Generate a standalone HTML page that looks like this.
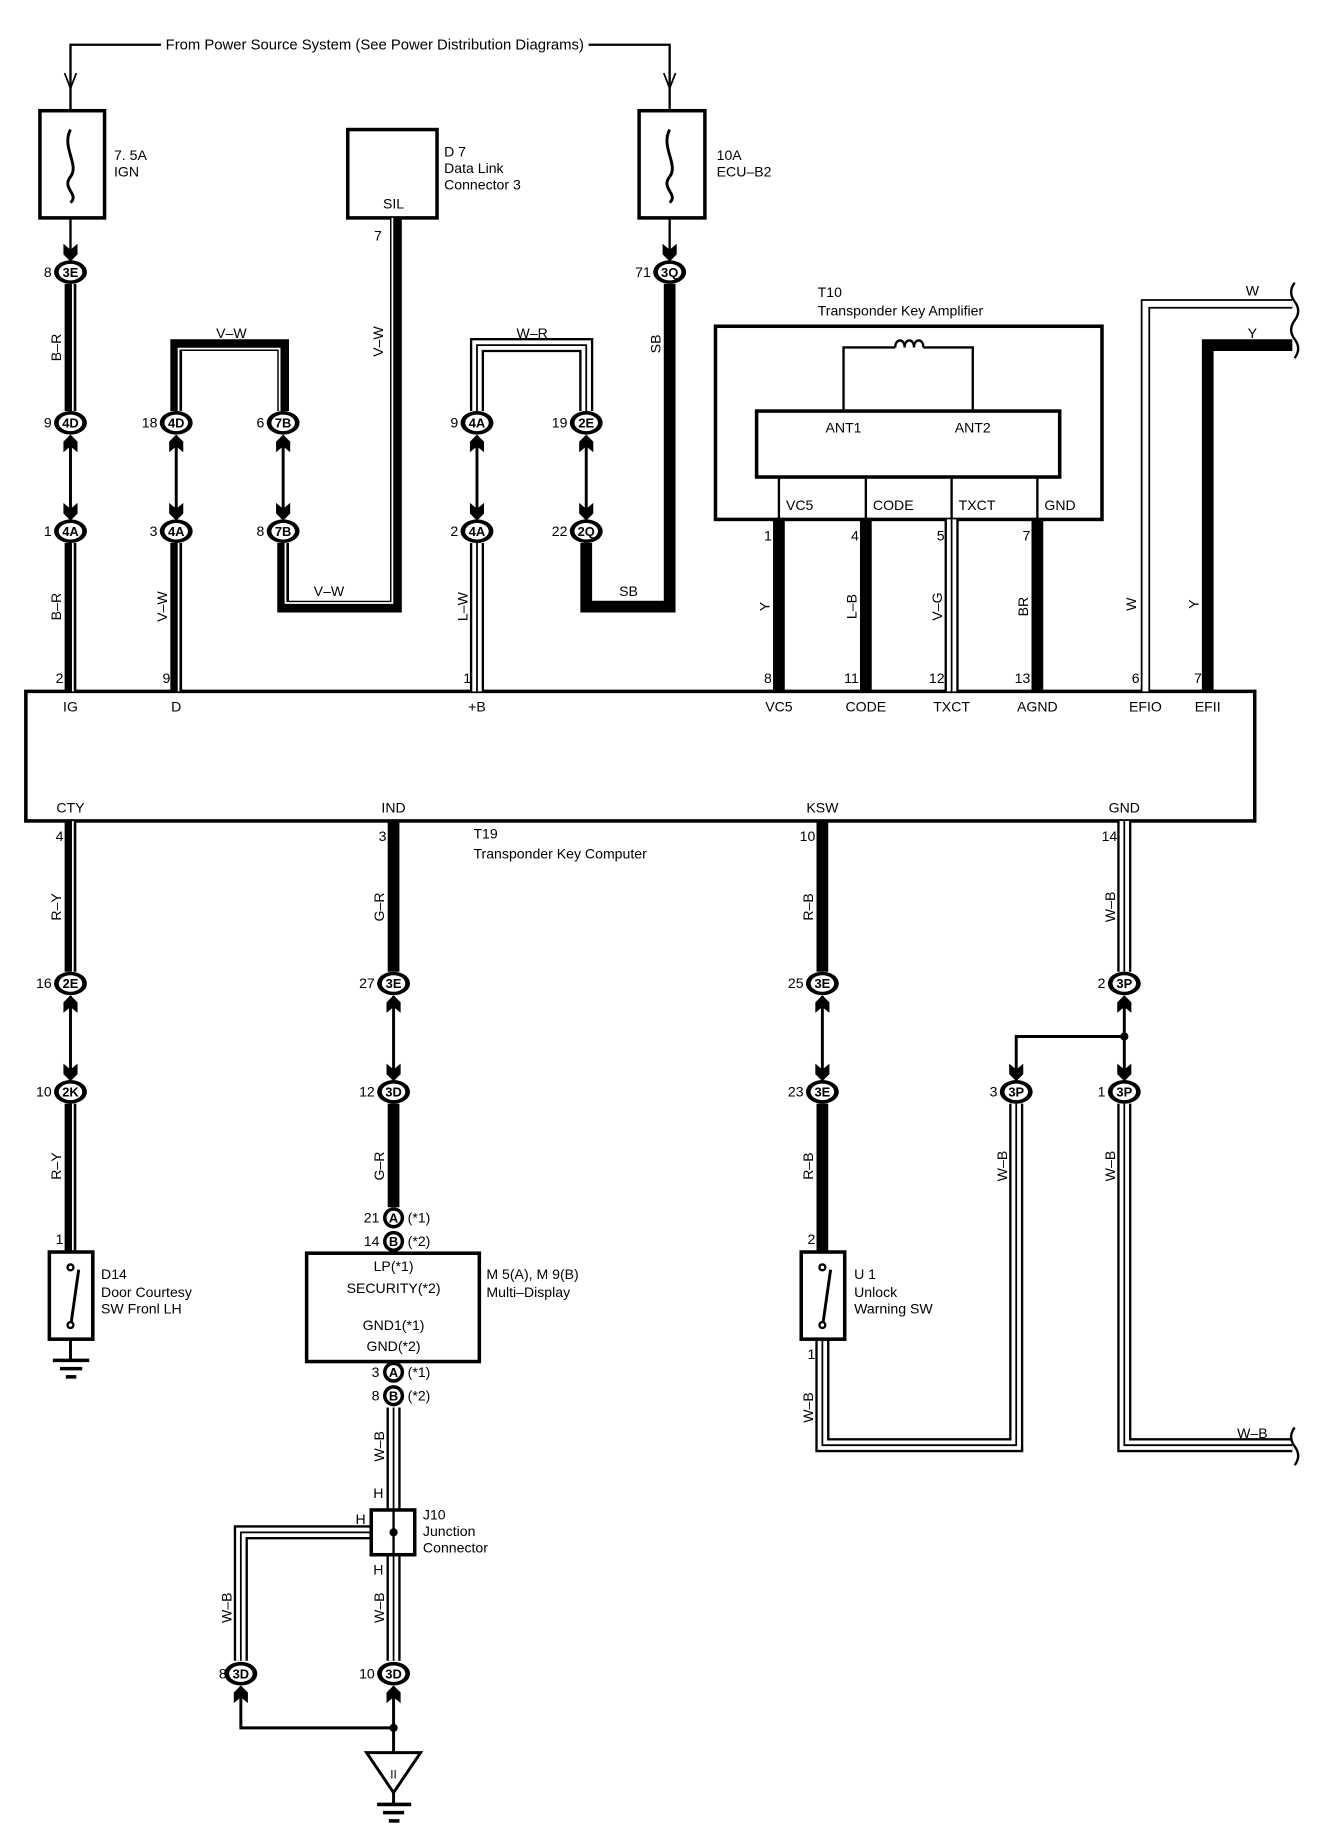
<!DOCTYPE html>
<html><head><meta charset="utf-8"><style>
html,body{margin:0;padding:0;background:#fff}
svg{display:block}
text{font-family:"Liberation Sans",sans-serif;font-size:12px;fill:#000}
.c{text-anchor:middle}
.e{text-anchor:end}
.ct{font-size:11px;text-anchor:middle;font-weight:bold}
</style></head><body>
<svg width="1344" height="1848" viewBox="0 0 1144 1569" preserveAspectRatio="none" xmlns="http://www.w3.org/2000/svg">
<defs>
<polygon id="cd" points="-6,-13 0,-8 6,-13 6,-4 0,2 -6,-4" fill="#000"/>
<polygon id="cu" points="-6,13 0,8 6,13 6,4 0,-2 -6,4" fill="#000"/>
<g id="co"><ellipse cx="0" cy="0" rx="14" ry="10" fill="#000"/><ellipse cx="0" cy="0" rx="10" ry="7" fill="#fff"/></g>
<g id="ab"><circle cx="0" cy="0" r="9" fill="#000"/><circle cx="0" cy="0" r="6" fill="#fff"/></g>
</defs>
<g fill="none" stroke="#000">
<polyline points="60,93 60,38 570,38 570,93" stroke-width="2"/>
<polyline points="55,62 60,75 65,62" stroke-width="1.5"/>
<polyline points="565,62 570,75 575,62" stroke-width="1.5"/>
<rect x="34" y="94" width="55" height="91" stroke-width="3"/>
<rect x="544" y="94" width="56" height="91" stroke-width="3"/>
<path d="M60,110 C52,125 68,140 60,150 C52,160 68,165 60,172" stroke-width="2.5"/>
<path d="M570,110 C562,125 578,140 570,150 C562,160 578,165 570,172" stroke-width="2.5"/>
<line x1="60" y1="185" x2="60" y2="215" stroke-width="2"/>
<line x1="570" y1="185" x2="570" y2="215" stroke-width="2"/>
<rect x="296" y="110" width="76" height="75" stroke-width="3"/>
<rect x="609" y="277" width="329" height="164" stroke-width="3"/>
<rect x="644" y="349" width="258" height="56" stroke-width="3"/>
<polyline points="718,349 718,295 762,295" stroke-width="2"/>
<polyline points="828,349 828,295 786,295" stroke-width="2"/>
<path d="M762,295 c0,-8 8,-8 8,0 c0,-8 8,-8 8,0 c0,-8 8,-8 8,0" stroke-width="2"/>
<line x1="663" y1="405" x2="663" y2="441" stroke-width="2"/>
<line x1="737" y1="405" x2="737" y2="441" stroke-width="2"/>
<line x1="810" y1="405" x2="810" y2="441" stroke-width="2"/>
<line x1="883" y1="405" x2="883" y2="441" stroke-width="2"/>
<rect x="22" y="587" width="1046" height="110" stroke-width="3"/>

<g stroke-width="2.5">
<line x1="60" y1="370" x2="60" y2="440"/><line x1="150" y1="370" x2="150" y2="440"/>
<line x1="241" y1="370" x2="241" y2="440"/><line x1="406" y1="370" x2="406" y2="440"/>
<line x1="499" y1="370" x2="499" y2="440"/>
<line x1="60" y1="846" x2="60" y2="916"/><line x1="335" y1="846" x2="335" y2="916"/>
<line x1="700" y1="846" x2="700" y2="916"/><line x1="957" y1="846" x2="957" y2="916"/>
<polyline points="865,916 865,880 957,880"/>
<polyline points="205,1432 205,1467 335,1467"/><line x1="335" y1="1432" x2="335" y2="1488"/>
<line x1="60" y1="1137" x2="60" y2="1155"/>
</g>

<g stroke-width="10">
<line x1="60" y1="241" x2="60" y2="349"/><line x1="60" y1="461" x2="60" y2="587"/>
<line x1="150" y1="461" x2="150" y2="587"/>
<polyline points="570,241 570,515 499,515 499,461"/>
<line x1="663" y1="441" x2="663" y2="587"/><line x1="737" y1="441" x2="737" y2="587"/>
<line x1="883" y1="441" x2="883" y2="587"/>
<polyline points="1028,587 1028,293 1100,293"/>
<line x1="60" y1="697" x2="60" y2="825"/><line x1="60" y1="937" x2="60" y2="1063"/>
<line x1="335" y1="697" x2="335" y2="825"/><line x1="335" y1="937" x2="335" y2="1025"/>
<line x1="700" y1="697" x2="700" y2="825"/><line x1="700" y1="937" x2="700" y2="1063"/>
<polyline points="150,349 150,293 241,293 241,349"/>
<polyline points="241,461 241,515 337,515 337,185"/>
</g>
<g stroke="#fff" stroke-width="1.5">
<line x1="62" y1="241" x2="62" y2="349"/><line x1="62" y1="461" x2="62" y2="587"/>
<line x1="152" y1="461" x2="152" y2="587"/>
<polyline points="152,349 152,296 238,296 238,349"/>
<polyline points="243,461 243,512 334,512 334,185"/>
<line x1="62" y1="697" x2="62" y2="825"/><line x1="62" y1="937" x2="62" y2="1063"/>
</g>
<g stroke-width="12">
<polyline points="406,349 406,293 499,293 499,349"/><line x1="406" y1="461" x2="406" y2="587"/>
<line x1="810" y1="441" x2="810" y2="587"/>
<line x1="957" y1="697" x2="957" y2="825"/>
<polyline points="957,937 957,1227 1100,1227"/>
<polyline points="700,1137 700,1227 865,1227 865,937"/>
<line x1="335" y1="1195" x2="335" y2="1410"/>
<polyline points="316,1301 205,1301 205,1410"/>
</g>
<g stroke="#fff" stroke-width="8">
<polyline points="406,349 406,293 499,293 499,349"/><line x1="406" y1="461" x2="406" y2="587"/>
<line x1="810" y1="441" x2="810" y2="587"/>
<line x1="957" y1="697" x2="957" y2="825"/>
<polyline points="957,937 957,1227 1100,1227"/>
<polyline points="700,1137 700,1227 865,1227 865,937"/>
<line x1="335" y1="1195" x2="335" y2="1410"/>
<polyline points="316,1301 205,1301 205,1410"/>
</g>
<g stroke-width="1.5">
<polyline points="406,349 406,293 499,293 499,349"/><line x1="406" y1="461" x2="406" y2="587"/>
<line x1="810" y1="441" x2="810" y2="587"/>
<line x1="957" y1="697" x2="957" y2="825"/>
<polyline points="957,937 957,1227 1100,1227"/>
<polyline points="700,1137 700,1227 865,1227 865,937"/>
<line x1="335" y1="1195" x2="335" y2="1410"/>
<polyline points="316,1301 205,1301 205,1410"/>
</g>
<polyline points="975,587 975,258 1100,258" stroke-width="8"/>
<polyline points="975,587 975,258 1100,258" stroke="#fff" stroke-width="5"/>
<path d="M1102,240 q-6,8 0,16 q6,8 0,16 q-6,8 0,16 q6,8 0,16" stroke-width="2"/>
<path d="M1102,1212 q-6,8 0,16 q6,8 0,16" stroke-width="2"/>
<rect x="42" y="1063" width="37" height="74" stroke-width="3" fill="#fff"/>
<rect x="682" y="1063" width="37" height="74" stroke-width="3" fill="#fff"/>
<line x1="60" y1="1127" x2="67" y2="1078" stroke-width="2.5"/>
<line x1="700" y1="1127" x2="707" y2="1078" stroke-width="2.5"/>
<circle cx="60" cy="1076" r="2.5" stroke-width="2" fill="#fff"/><circle cx="60" cy="1125" r="2.5" stroke-width="2" fill="#fff"/>
<circle cx="700" cy="1076" r="2.5" stroke-width="2" fill="#fff"/><circle cx="700" cy="1125" r="2.5" stroke-width="2" fill="#fff"/>
<g stroke-width="3"><line x1="45" y1="1155" x2="76" y2="1155"/><line x1="51" y1="1162" x2="70" y2="1162"/><line x1="56" y1="1169" x2="65" y2="1169"/>
<line x1="321" y1="1532" x2="350" y2="1532"/><line x1="326" y1="1539" x2="344" y2="1539"/><line x1="331" y1="1546" x2="340" y2="1546"/></g>
<polygon points="312,1488 358,1488 335,1522" stroke-width="2.5" fill="#fff"/>
<line x1="335" y1="1522" x2="335" y2="1532" stroke-width="2.5"/>
<rect x="261" y="1064" width="147" height="92" stroke-width="3" fill="#fff"/>
<rect x="316" y="1282" width="37" height="38" stroke-width="3" fill="#fff"/>
<line x1="335" y1="1282" x2="335" y2="1320" stroke-width="2"/>
</g>
<circle cx="335" cy="1301" r="3.5"/><circle cx="957" cy="880" r="3.5"/><circle cx="335" cy="1467" r="3.5"/>

<g>
<use href="#cd" x="60" y="220"/><use href="#co" x="60" y="231"/>
<use href="#cd" x="570" y="220"/><use href="#co" x="570" y="231"/>
<use href="#co" x="60" y="359"/><use href="#cu" x="60" y="371"/><use href="#cd" x="60" y="440"/><use href="#co" x="60" y="451"/>
<use href="#co" x="150" y="359"/><use href="#cu" x="150" y="371"/><use href="#cd" x="150" y="440"/><use href="#co" x="150" y="451"/>
<use href="#co" x="241" y="359"/><use href="#cu" x="241" y="371"/><use href="#cd" x="241" y="440"/><use href="#co" x="241" y="451"/>
<use href="#co" x="406" y="359"/><use href="#cu" x="406" y="371"/><use href="#cd" x="406" y="440"/><use href="#co" x="406" y="451"/>
<use href="#co" x="499" y="359"/><use href="#cu" x="499" y="371"/><use href="#cd" x="499" y="440"/><use href="#co" x="499" y="451"/>
<use href="#co" x="60" y="835"/><use href="#cu" x="60" y="847"/><use href="#cd" x="60" y="916"/><use href="#co" x="60" y="927"/>
<use href="#co" x="335" y="835"/><use href="#cu" x="335" y="847"/><use href="#cd" x="335" y="916"/><use href="#co" x="335" y="927"/>
<use href="#co" x="700" y="835"/><use href="#cu" x="700" y="847"/><use href="#cd" x="700" y="916"/><use href="#co" x="700" y="927"/>
<use href="#co" x="957" y="835"/><use href="#cu" x="957" y="847"/><use href="#cd" x="957" y="916"/><use href="#co" x="957" y="927"/>
<use href="#cd" x="865" y="916"/><use href="#co" x="865" y="927"/>
<use href="#co" x="205" y="1421"/><use href="#cu" x="205" y="1433"/>
<use href="#co" x="335" y="1421"/><use href="#cu" x="335" y="1433"/>
<use href="#ab" x="335" y="1034"/><use href="#ab" x="335" y="1054"/>
<use href="#ab" x="335" y="1165"/><use href="#ab" x="335" y="1185"/>
</g>
<g class="ct">
<text x="60" y="235" class="ct">3E</text><text x="570" y="235" class="ct">3Q</text>
<text x="60" y="363" class="ct">4D</text><text x="60" y="455" class="ct">4A</text>
<text x="150" y="363" class="ct">4D</text><text x="150" y="455" class="ct">4A</text>
<text x="241" y="363" class="ct">7B</text><text x="241" y="455" class="ct">7B</text>
<text x="406" y="363" class="ct">4A</text><text x="406" y="455" class="ct">4A</text>
<text x="499" y="363" class="ct">2E</text><text x="499" y="455" class="ct">2Q</text>
<text x="60" y="839" class="ct">2E</text><text x="60" y="931" class="ct">2K</text>
<text x="335" y="839" class="ct">3E</text><text x="335" y="931" class="ct">3D</text>
<text x="700" y="839" class="ct">3E</text><text x="700" y="931" class="ct">3E</text>
<text x="957" y="839" class="ct">3P</text><text x="957" y="931" class="ct">3P</text>
<text x="865" y="931" class="ct">3P</text>
<text x="205" y="1425" class="ct">3D</text><text x="335" y="1425" class="ct">3D</text>
<text x="335" y="1038" class="ct">A</text><text x="335" y="1058" class="ct">B</text>
<text x="335" y="1169" class="ct">A</text><text x="335" y="1189" class="ct">B</text>
</g>
<rect x="137" y="30" width="364" height="16" fill="#fff"/>
<text x="319" y="42" class="c" style="font-size:12.5px" textLength="356" lengthAdjust="spacingAndGlyphs">From Power Source System (See Power Distribution Diagrams)</text>
<text x="97" y="136">7. 5A</text><text x="97" y="150">IGN</text>
<text x="610" y="136">10A</text><text x="610" y="150">ECU–B2</text>
<text x="378" y="133">D 7</text><text x="378" y="147">Data Link</text><text x="378" y="161">Connector 3</text>
<text x="335" y="177" class="c">SIL</text>
<text x="325" y="204" class="e">7</text>
<g class="e">
<text x="44" y="235" class="e">8</text><text x="554" y="235" class="e">71</text>
<text x="44" y="363" class="e">9</text><text x="134" y="363" class="e">18</text><text x="225" y="363" class="e">6</text><text x="390" y="363" class="e">9</text><text x="483" y="363" class="e">19</text>
<text x="44" y="455" class="e">1</text><text x="134" y="455" class="e">3</text><text x="225" y="455" class="e">8</text><text x="390" y="455" class="e">2</text><text x="483" y="455" class="e">22</text>
<text x="54" y="580" class="e">2</text><text x="145" y="580" class="e">9</text><text x="401" y="580" class="e">1</text>
<text x="657" y="459" class="e">1</text><text x="731" y="459" class="e">4</text><text x="804" y="459" class="e">5</text><text x="877" y="459" class="e">7</text>
<text x="657" y="580" class="e">8</text><text x="731" y="580" class="e">11</text><text x="804" y="580" class="e">12</text><text x="877" y="580" class="e">13</text>
<text x="970" y="580" class="e">6</text><text x="1023" y="580" class="e">7</text>
<text x="54" y="714" class="e">4</text><text x="329" y="714" class="e">3</text><text x="694" y="714" class="e">10</text><text x="951" y="714" class="e">14</text>
<text x="44" y="839" class="e">16</text><text x="319" y="839" class="e">27</text><text x="684" y="839" class="e">25</text><text x="941" y="839" class="e">2</text>
<text x="44" y="931" class="e">10</text><text x="319" y="931" class="e">12</text><text x="684" y="931" class="e">23</text><text x="941" y="931" class="e">1</text><text x="849" y="931" class="e">3</text>
<text x="54" y="1056" class="e">1</text><text x="694" y="1056" class="e">2</text><text x="694" y="1154" class="e">1</text>
<text x="323" y="1038" class="e">21</text><text x="323" y="1058" class="e">14</text>
<text x="323" y="1169" class="e">3</text><text x="323" y="1189" class="e">8</text>
<text x="193" y="1425" class="e">8</text><text x="319" y="1425" class="e">10</text>
</g>
<text x="347" y="1038">(*1)</text><text x="347" y="1058">(*2)</text>
<text x="347" y="1169">(*1)</text><text x="347" y="1189">(*2)</text>
<text x="197" y="287" class="c">V–W</text><text x="453" y="287" class="c">W–R</text>
<text x="280" y="506" class="c">V–W</text><text x="535" y="506" class="c">SB</text>
<text x="1066" y="251" class="c">W</text><text x="1066" y="287" class="c">Y</text>
<text x="1066" y="1221" class="c">W–B</text>
<g>
<text transform="translate(52,295) rotate(-90)" class="c">B–R</text>
<text transform="translate(52,515) rotate(-90)" class="c">B–R</text>
<text transform="translate(142,515) rotate(-90)" class="c">V–W</text>
<text transform="translate(326,290) rotate(-90)" class="c">V–W</text>
<text transform="translate(398,515) rotate(-90)" class="c">L–W</text>
<text transform="translate(562,292) rotate(-90)" class="c">SB</text>
<text transform="translate(655,515) rotate(-90)" class="c">Y</text>
<text transform="translate(729,515) rotate(-90)" class="c">L–B</text>
<text transform="translate(802,515) rotate(-90)" class="c">V–G</text>
<text transform="translate(875,515) rotate(-90)" class="c">BR</text>
<text transform="translate(967,513) rotate(-90)" class="c">W</text>
<text transform="translate(1020,513) rotate(-90)" class="c">Y</text>
<text transform="translate(52,770) rotate(-90)" class="c">R–Y</text>
<text transform="translate(52,990) rotate(-90)" class="c">R–Y</text>
<text transform="translate(327,770) rotate(-90)" class="c">G–R</text>
<text transform="translate(327,990) rotate(-90)" class="c">G–R</text>
<text transform="translate(692,770) rotate(-90)" class="c">R–B</text>
<text transform="translate(692,990) rotate(-90)" class="c">R–B</text>
<text transform="translate(949,770) rotate(-90)" class="c">W–B</text>
<text transform="translate(949,990) rotate(-90)" class="c">W–B</text>
<text transform="translate(857,990) rotate(-90)" class="c">W–B</text>
<text transform="translate(692,1195) rotate(-90)" class="c">W–B</text>
<text transform="translate(327,1228) rotate(-90)" class="c">W–B</text>
<text transform="translate(327,1365) rotate(-90)" class="c">W–B</text>
<text transform="translate(197,1365) rotate(-90)" class="c">W–B</text>
</g>
<text x="696" y="252">T10</text><text x="696" y="268">Transponder Key Amplifier</text>
<text x="718" y="367" class="c">ANT1</text><text x="828" y="367" class="c">ANT2</text>
<text x="669" y="433">VC5</text><text x="743" y="433">CODE</text><text x="816" y="433">TXCT</text><text x="889" y="433">GND</text>
<text x="60" y="604" class="c">IG</text><text x="150" y="604" class="c">D</text><text x="406" y="604" class="c">+B</text>
<text x="663" y="604" class="c">VC5</text><text x="737" y="604" class="c">CODE</text><text x="810" y="604" class="c">TXCT</text><text x="883" y="604" class="c">AGND</text>
<text x="975" y="604" class="c">EFIO</text><text x="1028" y="604" class="c">EFII</text>
<text x="60" y="690" class="c">CTY</text><text x="335" y="690" class="c">IND</text><text x="700" y="690" class="c">KSW</text><text x="957" y="690" class="c">GND</text>
<text x="403" y="712">T19</text><text x="403" y="729">Transponder Key Computer</text>
<text x="86" y="1086">D14</text><text x="86" y="1101">Door Courtesy</text><text x="86" y="1115">SW Fronl LH</text>
<text x="727" y="1086">U 1</text><text x="727" y="1101">Unlock</text><text x="727" y="1115">Warning SW</text>
<text x="335" y="1079" class="c">LP(*1)</text><text x="335" y="1098" class="c">SECURITY(*2)</text>
<text x="335" y="1129" class="c">GND1(*1)</text><text x="335" y="1147" class="c">GND(*2)</text>
<text x="414" y="1086">M 5(A), M 9(B)</text><text x="414" y="1101">Multi–Display</text>
<text x="322" y="1272" class="c">H</text><text x="307" y="1294" class="c">H</text><text x="322" y="1337" class="c">H</text>
<text x="360" y="1290">J10</text><text x="360" y="1304">Junction</text><text x="360" y="1318">Connector</text>
<text x="335" y="1510" class="c" style="font-size:10px">II</text>
</svg>
</body></html>
